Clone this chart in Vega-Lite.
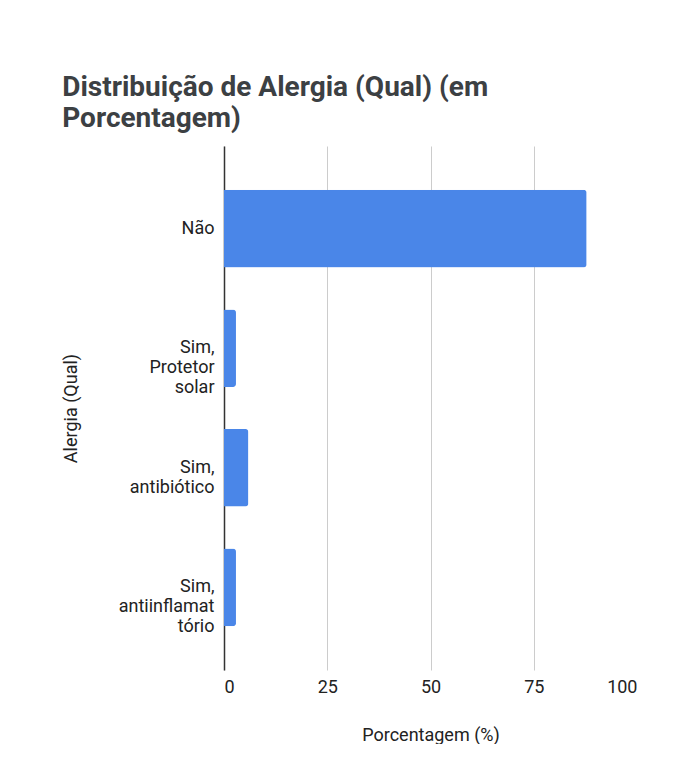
{
  "$schema": "https://vega.github.io/schema/vega-lite/v6.json",
  "width": 413,
  "height": 524,
  "padding": {"left": 62, "top": 74, "right": 0, "bottom": 0},
  "background": "white",
  "title": {
    "text": ["Distribuição de Alergia (Qual) (em", "Porcentagem)"],
    "anchor": "start",
    "frame": "bounds",
    "font": "Roboto",
    "fontSize": 28,
    "fontWeight": "bold",
    "color": "#3c4043",
    "lineHeight": 31,
    "offset": 13
  },
  "data": {
    "values": [
      {"alergia": "Não", "pct": 87.8},
      {"alergia": "Sim, Protetor solar", "pct": 2.9},
      {"alergia": "Sim, antibiótico", "pct": 5.9},
      {"alergia": "Sim, antiinflamatório", "pct": 2.9}
    ]
  },
  "mark": {"type": "bar", "color": "#4a86e8", "cornerRadiusEnd": 3},
  "encoding": {
    "y": {
      "field": "alergia",
      "type": "nominal",
      "sort": null,
      "scale": {"paddingInner": 0.35, "paddingOuter": 0.367},
      "axis": {
        "title": "Alergia (Qual)",
        "titleFont": "Roboto",
        "titleFontSize": 18,
        "titleFontWeight": "normal",
        "titleColor": "#222222",
        "titlePadding": 38,
        "labelFont": "Roboto",
        "labelFontSize": 18,
        "labelColor": "#222222",
        "labelPadding": 10,
        "labelLineHeight": 20,
        "labelExpr": "datum.value == 'Sim, Protetor solar' ? ['Sim,', 'Protetor', 'solar'] : datum.value == 'Sim, antibiótico' ? ['Sim,', 'antibiótico'] : datum.value == 'Sim, antiinflamatório' ? ['Sim,', 'antiinflamat', 'tório'] : datum.value",
        "ticks": false,
        "domain": true,
        "domainColor": "#333333",
        "domainWidth": 1.5,
        "grid": false
      }
    },
    "x": {
      "field": "pct",
      "type": "quantitative",
      "scale": {"domain": [0, 100], "nice": false},
      "axis": {
        "title": "Porcentagem (%)",
        "titleFont": "Roboto",
        "titleFontSize": 18,
        "titleFontWeight": "normal",
        "titleColor": "#222222",
        "titlePadding": 30,
        "values": [0, 25, 50, 75, 100],
        "labelFont": "Roboto",
        "labelFontSize": 18,
        "labelColor": "#222222",
        "labelPadding": 8,
        "ticks": false,
        "domain": false,
        "grid": true,
        "gridColor": "#cccccc",
        "gridWidth": 1
      }
    }
  },
  "config": {"view": {"stroke": null}}
}
